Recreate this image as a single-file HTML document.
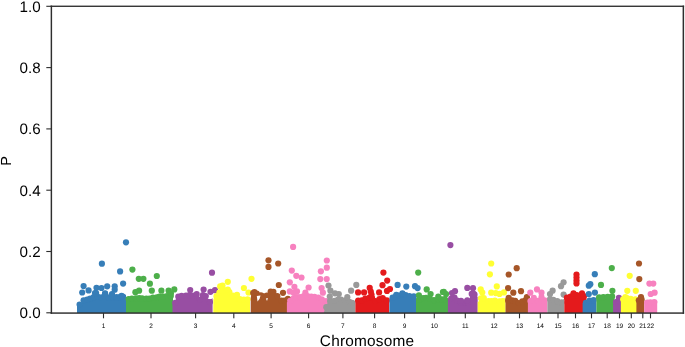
<!DOCTYPE html>
<html><head><meta charset="utf-8"><style>
html,body{margin:0;padding:0;background:#fff;}
body{width:685px;height:347px;overflow:hidden;}
svg{display:block;will-change:transform;}
text{text-rendering:geometricPrecision;font-family:"Liberation Sans",sans-serif;fill:#000;}
.yt{font-size:15.2px;text-anchor:end;}
.xt{font-size:6.5px;text-anchor:middle;}
.xl{font-size:15.4px;text-anchor:middle;letter-spacing:0.2px;}
.yl{font-size:14.6px;text-anchor:middle;}
</style></head><body>
<svg width="685" height="347" viewBox="0 0 685 347">
<clipPath id="ax"><rect x="51" y="6" width="632" height="307"/></clipPath>
<g clip-path="url(#ax)">
<path d="M77.0,313.5 L77.0,304.7 L78.5,303.4 L82.0,303.0 L83.0,299.7 L84.5,298.2 L88.0,298.0 L90.5,296.7 L92.0,295.7 L100.0,295.2 L110.0,295.2 L118.0,296.2 L123.0,295.2 L126.0,294.7 L126.0,313.5Z" fill="#377eb8"/>
<circle cx="79.6" cy="304.6" r="3.1" fill="#377eb8"/>
<circle cx="83.6" cy="300.3" r="3.1" fill="#377eb8"/>
<circle cx="87.1" cy="299.6" r="3.1" fill="#377eb8"/>
<circle cx="90.1" cy="298.6" r="3.1" fill="#377eb8"/>
<circle cx="93.7" cy="297.2" r="3.1" fill="#377eb8"/>
<circle cx="97.4" cy="296.6" r="3.1" fill="#377eb8"/>
<circle cx="101.4" cy="297.3" r="3.1" fill="#377eb8"/>
<circle cx="104.7" cy="296.6" r="3.1" fill="#377eb8"/>
<circle cx="108.9" cy="297.4" r="3.1" fill="#377eb8"/>
<circle cx="112.4" cy="297.1" r="3.1" fill="#377eb8"/>
<circle cx="116.5" cy="297.2" r="3.1" fill="#377eb8"/>
<circle cx="120.0" cy="297.2" r="3.1" fill="#377eb8"/>
<circle cx="122.8" cy="296.5" r="3.1" fill="#377eb8"/>
<circle cx="82.2" cy="292.5" r="3.1" fill="#377eb8"/>
<circle cx="88.6" cy="290.4" r="3.1" fill="#377eb8"/>
<circle cx="96.1" cy="293.1" r="3.1" fill="#377eb8"/>
<circle cx="105.1" cy="293.4" r="3.1" fill="#377eb8"/>
<circle cx="83.6" cy="286.1" r="3.1" fill="#377eb8"/>
<circle cx="96.5" cy="287.8" r="3.1" fill="#377eb8"/>
<circle cx="101.5" cy="288.0" r="3.1" fill="#377eb8"/>
<circle cx="107.2" cy="286.3" r="3.1" fill="#377eb8"/>
<circle cx="114.7" cy="286.3" r="3.1" fill="#377eb8"/>
<circle cx="114.7" cy="289.7" r="3.1" fill="#377eb8"/>
<circle cx="105.0" cy="293.8" r="3.1" fill="#377eb8"/>
<circle cx="121.5" cy="295.8" r="3.1" fill="#377eb8"/>
<circle cx="123.1" cy="283.6" r="3.1" fill="#377eb8"/>
<circle cx="120.1" cy="271.4" r="3.1" fill="#377eb8"/>
<circle cx="101.9" cy="263.7" r="3.1" fill="#377eb8"/>
<circle cx="126.0" cy="242.3" r="3.1" fill="#377eb8"/>
<circle cx="95.0" cy="293.0" r="3.1" fill="#377eb8"/>
<circle cx="112.0" cy="294.0" r="3.1" fill="#377eb8"/>
<path d="M126.0,313.5 L126.0,297.2 L130.0,296.7 L134.0,296.7 L140.0,297.0 L145.0,297.2 L150.0,296.7 L155.0,295.7 L160.0,294.7 L165.0,294.5 L170.0,294.7 L173.0,295.2 L173.0,313.5Z" fill="#4daf4a"/>
<circle cx="128.6" cy="299.0" r="3.1" fill="#4daf4a"/>
<circle cx="131.9" cy="298.5" r="3.1" fill="#4daf4a"/>
<circle cx="135.9" cy="298.3" r="3.1" fill="#4daf4a"/>
<circle cx="139.2" cy="298.1" r="3.1" fill="#4daf4a"/>
<circle cx="142.1" cy="298.4" r="3.1" fill="#4daf4a"/>
<circle cx="146.3" cy="298.7" r="3.1" fill="#4daf4a"/>
<circle cx="149.3" cy="298.6" r="3.1" fill="#4daf4a"/>
<circle cx="152.9" cy="297.6" r="3.1" fill="#4daf4a"/>
<circle cx="156.8" cy="297.3" r="3.1" fill="#4daf4a"/>
<circle cx="159.5" cy="296.6" r="3.1" fill="#4daf4a"/>
<circle cx="163.3" cy="296.7" r="3.1" fill="#4daf4a"/>
<circle cx="167.0" cy="296.0" r="3.1" fill="#4daf4a"/>
<circle cx="170.8" cy="296.1" r="3.1" fill="#4daf4a"/>
<circle cx="132.4" cy="269.6" r="3.1" fill="#4daf4a"/>
<circle cx="138.8" cy="278.8" r="3.1" fill="#4daf4a"/>
<circle cx="143.4" cy="278.8" r="3.1" fill="#4daf4a"/>
<circle cx="156.8" cy="276.0" r="3.1" fill="#4daf4a"/>
<circle cx="149.9" cy="283.7" r="3.1" fill="#4daf4a"/>
<circle cx="135.4" cy="292.2" r="3.1" fill="#4daf4a"/>
<circle cx="139.1" cy="290.7" r="3.1" fill="#4daf4a"/>
<circle cx="151.8" cy="290.7" r="3.1" fill="#4daf4a"/>
<circle cx="161.4" cy="290.7" r="3.1" fill="#4daf4a"/>
<circle cx="168.6" cy="290.7" r="3.1" fill="#4daf4a"/>
<circle cx="174.3" cy="289.4" r="3.1" fill="#4daf4a"/>
<circle cx="170.9" cy="293.3" r="3.1" fill="#4daf4a"/>
<path d="M172.5,313.5 L172.5,302.2 L175.0,301.2 L176.5,297.7 L178.0,295.2 L180.0,294.2 L185.0,293.7 L195.0,293.7 L198.3,294.2 L199.5,298.7 L200.7,294.2 L203.0,293.2 L206.0,294.2 L207.5,298.2 L210.0,299.7 L212.6,298.2 L212.6,313.5Z" fill="#984ea3"/>
<circle cx="175.2" cy="302.8" r="3.1" fill="#984ea3"/>
<circle cx="178.3" cy="296.7" r="3.1" fill="#984ea3"/>
<circle cx="181.6" cy="295.9" r="3.1" fill="#984ea3"/>
<circle cx="186.0" cy="295.5" r="3.1" fill="#984ea3"/>
<circle cx="189.5" cy="295.2" r="3.1" fill="#984ea3"/>
<circle cx="192.8" cy="295.5" r="3.1" fill="#984ea3"/>
<circle cx="196.1" cy="295.5" r="3.1" fill="#984ea3"/>
<circle cx="199.9" cy="299.6" r="3.1" fill="#984ea3"/>
<circle cx="202.9" cy="295.2" r="3.1" fill="#984ea3"/>
<circle cx="205.8" cy="296.1" r="3.1" fill="#984ea3"/>
<circle cx="210.0" cy="302.0" r="3.1" fill="#984ea3"/>
<circle cx="212.0" cy="272.7" r="3.1" fill="#984ea3"/>
<circle cx="190.2" cy="290.1" r="3.1" fill="#984ea3"/>
<circle cx="203.6" cy="289.5" r="3.1" fill="#984ea3"/>
<circle cx="210.5" cy="291.8" r="3.1" fill="#984ea3"/>
<circle cx="215.0" cy="290.2" r="3.1" fill="#984ea3"/>
<circle cx="196.7" cy="294.0" r="3.1" fill="#984ea3"/>
<path d="M213.3,313.5 L213.3,299.7 L214.5,296.7 L216.5,294.7 L218.0,291.7 L222.0,289.2 L228.0,289.2 L231.0,291.2 L233.0,294.2 L237.0,296.2 L240.0,297.7 L245.0,297.2 L250.0,297.2 L250.0,313.5Z" fill="#ffff33"/>
<circle cx="216.5" cy="296.2" r="3.1" fill="#ffff33"/>
<circle cx="219.4" cy="292.7" r="3.1" fill="#ffff33"/>
<circle cx="222.4" cy="290.9" r="3.1" fill="#ffff33"/>
<circle cx="226.1" cy="290.4" r="3.1" fill="#ffff33"/>
<circle cx="229.4" cy="292.1" r="3.1" fill="#ffff33"/>
<circle cx="232.9" cy="295.5" r="3.1" fill="#ffff33"/>
<circle cx="236.7" cy="298.2" r="3.1" fill="#ffff33"/>
<circle cx="239.8" cy="299.2" r="3.1" fill="#ffff33"/>
<circle cx="243.8" cy="299.5" r="3.1" fill="#ffff33"/>
<circle cx="247.6" cy="299.3" r="3.1" fill="#ffff33"/>
<circle cx="251.5" cy="278.8" r="3.1" fill="#ffff33"/>
<circle cx="227.8" cy="281.8" r="3.1" fill="#ffff33"/>
<circle cx="220.2" cy="286.4" r="3.1" fill="#ffff33"/>
<circle cx="222.5" cy="285.7" r="3.1" fill="#ffff33"/>
<circle cx="243.9" cy="288.0" r="3.1" fill="#ffff33"/>
<circle cx="248.5" cy="292.5" r="3.1" fill="#ffff33"/>
<circle cx="227.8" cy="289.5" r="3.1" fill="#ffff33"/>
<circle cx="237.0" cy="294.8" r="3.1" fill="#ffff33"/>
<path d="M250.7,313.5 L250.7,298.2 L251.5,293.2 L253.0,291.5 L256.0,291.3 L258.0,291.7 L260.0,293.5 L262.0,294.7 L266.0,295.4 L268.0,292.2 L270.0,290.2 L273.0,290.0 L275.0,291.2 L277.0,294.2 L279.0,295.7 L281.0,298.7 L285.0,298.7 L287.0,297.7 L290.5,297.7 L290.5,313.5Z" fill="#a65628"/>
<circle cx="253.2" cy="293.1" r="3.1" fill="#a65628"/>
<circle cx="256.7" cy="293.6" r="3.1" fill="#a65628"/>
<circle cx="260.9" cy="295.3" r="3.1" fill="#a65628"/>
<circle cx="263.4" cy="296.3" r="3.1" fill="#a65628"/>
<circle cx="266.9" cy="295.7" r="3.1" fill="#a65628"/>
<circle cx="270.7" cy="291.6" r="3.1" fill="#a65628"/>
<circle cx="273.4" cy="291.9" r="3.1" fill="#a65628"/>
<circle cx="277.3" cy="296.2" r="3.1" fill="#a65628"/>
<circle cx="281.4" cy="300.6" r="3.1" fill="#a65628"/>
<circle cx="284.3" cy="300.5" r="3.1" fill="#a65628"/>
<circle cx="287.9" cy="298.9" r="3.1" fill="#a65628"/>
<circle cx="268.5" cy="260.3" r="3.1" fill="#a65628"/>
<circle cx="268.5" cy="266.9" r="3.1" fill="#a65628"/>
<circle cx="278.2" cy="263.5" r="3.1" fill="#a65628"/>
<circle cx="278.8" cy="285.0" r="3.1" fill="#a65628"/>
<circle cx="283.0" cy="292.8" r="3.1" fill="#a65628"/>
<circle cx="254.4" cy="292.1" r="3.1" fill="#a65628"/>
<path d="M256.8,296.0 L260.5,295.5 L259.5,299.0 L257.5,301.5Z" fill="#fff"/>
<path d="M265.9,298.5 L267.9,298.0 L267.0,301.0Z" fill="#fff"/>
<path d="M286.9,313.5 L286.9,302.2 L288.5,301.7 L290.8,297.7 L292.0,296.2 L295.0,295.7 L300.0,295.2 L305.0,294.7 L310.0,295.2 L315.0,295.7 L320.0,296.2 L323.0,297.7 L326.0,299.7 L328.8,301.7 L328.8,313.5Z" fill="#f781bf"/>
<circle cx="290.2" cy="300.8" r="3.1" fill="#f781bf"/>
<circle cx="293.8" cy="298.0" r="3.1" fill="#f781bf"/>
<circle cx="296.8" cy="297.1" r="3.1" fill="#f781bf"/>
<circle cx="300.1" cy="297.1" r="3.1" fill="#f781bf"/>
<circle cx="303.7" cy="296.0" r="3.1" fill="#f781bf"/>
<circle cx="307.5" cy="296.2" r="3.1" fill="#f781bf"/>
<circle cx="311.3" cy="296.5" r="3.1" fill="#f781bf"/>
<circle cx="314.5" cy="296.9" r="3.1" fill="#f781bf"/>
<circle cx="318.3" cy="297.6" r="3.1" fill="#f781bf"/>
<circle cx="321.8" cy="299.3" r="3.1" fill="#f781bf"/>
<circle cx="326.1" cy="301.1" r="3.1" fill="#f781bf"/>
<circle cx="293.1" cy="246.9" r="3.1" fill="#f781bf"/>
<circle cx="291.8" cy="270.6" r="3.1" fill="#f781bf"/>
<circle cx="296.3" cy="275.8" r="3.1" fill="#f781bf"/>
<circle cx="301.5" cy="277.5" r="3.1" fill="#f781bf"/>
<circle cx="289.8" cy="282.3" r="3.1" fill="#f781bf"/>
<circle cx="294.4" cy="286.8" r="3.1" fill="#f781bf"/>
<circle cx="289.8" cy="291.4" r="3.1" fill="#f781bf"/>
<circle cx="297.0" cy="291.4" r="3.1" fill="#f781bf"/>
<circle cx="293.5" cy="292.5" r="3.1" fill="#f781bf"/>
<circle cx="308.6" cy="287.5" r="3.1" fill="#f781bf"/>
<circle cx="305.4" cy="292.7" r="3.1" fill="#f781bf"/>
<circle cx="326.8" cy="260.5" r="3.1" fill="#f781bf"/>
<circle cx="326.8" cy="267.7" r="3.1" fill="#f781bf"/>
<circle cx="320.9" cy="271.3" r="3.1" fill="#f781bf"/>
<circle cx="320.3" cy="279.1" r="3.1" fill="#f781bf"/>
<circle cx="326.7" cy="279.1" r="3.1" fill="#f781bf"/>
<circle cx="321.6" cy="288.1" r="3.1" fill="#f781bf"/>
<circle cx="322.9" cy="292.7" r="3.1" fill="#f781bf"/>
<path d="M323.8,313.5 L323.8,312.7 L325.0,308.7 L326.5,305.2 L328.0,302.2 L330.0,299.7 L331.0,299.2 L336.0,298.2 L340.0,298.2 L345.0,299.2 L350.0,300.7 L355.4,300.7 L355.4,313.5Z" fill="#999999"/>
<circle cx="326.3" cy="307.2" r="3.1" fill="#999999"/>
<circle cx="330.1" cy="300.9" r="3.1" fill="#999999"/>
<circle cx="334.4" cy="300.8" r="3.1" fill="#999999"/>
<circle cx="337.7" cy="299.9" r="3.1" fill="#999999"/>
<circle cx="341.0" cy="299.6" r="3.1" fill="#999999"/>
<circle cx="345.0" cy="300.6" r="3.1" fill="#999999"/>
<circle cx="349.3" cy="301.8" r="3.1" fill="#999999"/>
<circle cx="352.0" cy="302.9" r="3.1" fill="#999999"/>
<circle cx="328.5" cy="285.5" r="3.1" fill="#999999"/>
<circle cx="330.4" cy="290.7" r="3.1" fill="#999999"/>
<circle cx="335.0" cy="293.3" r="3.1" fill="#999999"/>
<circle cx="338.8" cy="294.0" r="3.1" fill="#999999"/>
<circle cx="351.1" cy="290.7" r="3.1" fill="#999999"/>
<circle cx="356.3" cy="284.9" r="3.1" fill="#999999"/>
<circle cx="347.3" cy="297.2" r="3.1" fill="#999999"/>
<circle cx="329.8" cy="296.6" r="3.1" fill="#999999"/>
<path d="M355.4,313.5 L355.4,299.7 L357.0,299.2 L362.0,299.2 L364.0,296.7 L366.0,296.2 L368.0,295.7 L372.0,296.2 L374.0,298.7 L377.0,299.2 L379.0,297.2 L383.0,296.7 L385.0,297.2 L387.0,298.2 L389.2,297.7 L389.2,313.5Z" fill="#e41a1c"/>
<circle cx="358.2" cy="300.5" r="3.1" fill="#e41a1c"/>
<circle cx="361.8" cy="300.3" r="3.1" fill="#e41a1c"/>
<circle cx="365.3" cy="298.7" r="3.1" fill="#e41a1c"/>
<circle cx="369.2" cy="297.8" r="3.1" fill="#e41a1c"/>
<circle cx="372.0" cy="297.8" r="3.1" fill="#e41a1c"/>
<circle cx="375.4" cy="301.0" r="3.1" fill="#e41a1c"/>
<circle cx="379.4" cy="299.2" r="3.1" fill="#e41a1c"/>
<circle cx="382.7" cy="298.1" r="3.1" fill="#e41a1c"/>
<circle cx="386.8" cy="300.4" r="3.1" fill="#e41a1c"/>
<circle cx="383.4" cy="272.6" r="3.1" fill="#e41a1c"/>
<circle cx="387.2" cy="280.6" r="3.1" fill="#e41a1c"/>
<circle cx="382.5" cy="285.2" r="3.1" fill="#e41a1c"/>
<circle cx="369.7" cy="287.9" r="3.1" fill="#e41a1c"/>
<circle cx="370.8" cy="291.5" r="3.1" fill="#e41a1c"/>
<circle cx="371.5" cy="294.5" r="3.1" fill="#e41a1c"/>
<circle cx="358.1" cy="292.4" r="3.1" fill="#e41a1c"/>
<circle cx="364.1" cy="292.4" r="3.1" fill="#e41a1c"/>
<circle cx="379.1" cy="292.4" r="3.1" fill="#e41a1c"/>
<circle cx="387.0" cy="290.9" r="3.1" fill="#e41a1c"/>
<circle cx="390.0" cy="289.0" r="3.1" fill="#e41a1c"/>
<path d="M389.4,313.5 L389.4,299.2 L391.0,297.2 L393.5,294.7 L400.0,293.7 L405.0,293.5 L410.0,294.2 L414.5,294.7 L416.0,295.2 L416.0,313.5Z" fill="#377eb8"/>
<circle cx="392.6" cy="297.7" r="3.1" fill="#377eb8"/>
<circle cx="396.1" cy="296.3" r="3.1" fill="#377eb8"/>
<circle cx="398.9" cy="295.6" r="3.1" fill="#377eb8"/>
<circle cx="402.5" cy="294.7" r="3.1" fill="#377eb8"/>
<circle cx="405.6" cy="295.0" r="3.1" fill="#377eb8"/>
<circle cx="409.4" cy="296.0" r="3.1" fill="#377eb8"/>
<circle cx="413.8" cy="296.3" r="3.1" fill="#377eb8"/>
<circle cx="397.6" cy="284.9" r="3.1" fill="#377eb8"/>
<circle cx="406.3" cy="286.6" r="3.1" fill="#377eb8"/>
<circle cx="415.0" cy="286.2" r="3.1" fill="#377eb8"/>
<circle cx="417.6" cy="288.1" r="3.1" fill="#377eb8"/>
<circle cx="402.4" cy="293.3" r="3.1" fill="#377eb8"/>
<circle cx="396.3" cy="294.8" r="3.1" fill="#377eb8"/>
<path d="M416.0,313.5 L416.0,298.2 L420.0,297.2 L425.0,296.2 L430.0,297.2 L435.0,298.2 L440.0,297.2 L445.0,297.2 L448.0,298.2 L448.0,313.5Z" fill="#4daf4a"/>
<circle cx="419.3" cy="299.7" r="3.1" fill="#4daf4a"/>
<circle cx="423.1" cy="298.1" r="3.1" fill="#4daf4a"/>
<circle cx="426.0" cy="297.8" r="3.1" fill="#4daf4a"/>
<circle cx="429.7" cy="298.5" r="3.1" fill="#4daf4a"/>
<circle cx="434.0" cy="300.2" r="3.1" fill="#4daf4a"/>
<circle cx="438.1" cy="299.3" r="3.1" fill="#4daf4a"/>
<circle cx="441.6" cy="299.3" r="3.1" fill="#4daf4a"/>
<circle cx="444.7" cy="299.1" r="3.1" fill="#4daf4a"/>
<circle cx="418.2" cy="272.6" r="3.1" fill="#4daf4a"/>
<circle cx="426.7" cy="289.4" r="3.1" fill="#4daf4a"/>
<circle cx="430.6" cy="294.0" r="3.1" fill="#4daf4a"/>
<circle cx="442.9" cy="292.0" r="3.1" fill="#4daf4a"/>
<circle cx="446.1" cy="294.0" r="3.1" fill="#4daf4a"/>
<circle cx="418.9" cy="295.3" r="3.1" fill="#4daf4a"/>
<circle cx="438.3" cy="296.6" r="3.1" fill="#4daf4a"/>
<circle cx="443.8" cy="291.8" r="3.1" fill="#4daf4a"/>
<path d="M447.9,313.5 L447.9,298.7 L450.0,297.7 L452.0,295.7 L456.0,296.2 L457.5,299.2 L460.0,300.7 L463.0,300.7 L466.0,300.7 L469.5,299.7 L470.5,294.2 L472.0,292.2 L476.0,294.2 L477.7,297.2 L477.7,313.5Z" fill="#984ea3"/>
<circle cx="451.2" cy="298.6" r="3.1" fill="#984ea3"/>
<circle cx="454.5" cy="297.7" r="3.1" fill="#984ea3"/>
<circle cx="457.2" cy="300.7" r="3.1" fill="#984ea3"/>
<circle cx="460.9" cy="302.8" r="3.1" fill="#984ea3"/>
<circle cx="465.1" cy="302.3" r="3.1" fill="#984ea3"/>
<circle cx="467.9" cy="302.4" r="3.1" fill="#984ea3"/>
<circle cx="471.7" cy="293.9" r="3.1" fill="#984ea3"/>
<circle cx="474.5" cy="294.7" r="3.1" fill="#984ea3"/>
<circle cx="450.4" cy="245.1" r="3.1" fill="#984ea3"/>
<circle cx="455.0" cy="291.2" r="3.1" fill="#984ea3"/>
<circle cx="452.0" cy="293.1" r="3.1" fill="#984ea3"/>
<circle cx="467.3" cy="287.9" r="3.1" fill="#984ea3"/>
<circle cx="473.0" cy="288.2" r="3.1" fill="#984ea3"/>
<circle cx="473.7" cy="293.9" r="3.1" fill="#984ea3"/>
<circle cx="461.0" cy="300.8" r="3.1" fill="#984ea3"/>
<circle cx="467.3" cy="300.3" r="3.1" fill="#984ea3"/>
<path d="M477.7,313.5 L477.7,301.7 L479.0,301.2 L480.5,297.2 L482.0,294.2 L484.0,296.2 L486.0,298.7 L490.0,299.4 L495.0,299.4 L500.0,299.4 L503.0,298.7 L505.5,298.2 L505.5,313.5Z" fill="#ffff33"/>
<circle cx="481.0" cy="298.3" r="3.1" fill="#ffff33"/>
<circle cx="483.8" cy="298.1" r="3.1" fill="#ffff33"/>
<circle cx="488.5" cy="301.0" r="3.1" fill="#ffff33"/>
<circle cx="491.4" cy="301.2" r="3.1" fill="#ffff33"/>
<circle cx="494.9" cy="300.5" r="3.1" fill="#ffff33"/>
<circle cx="499.6" cy="301.3" r="3.1" fill="#ffff33"/>
<circle cx="502.7" cy="301.0" r="3.1" fill="#ffff33"/>
<circle cx="491.2" cy="263.5" r="3.1" fill="#ffff33"/>
<circle cx="489.9" cy="274.3" r="3.1" fill="#ffff33"/>
<circle cx="496.8" cy="286.4" r="3.1" fill="#ffff33"/>
<circle cx="480.7" cy="289.4" r="3.1" fill="#ffff33"/>
<circle cx="482.3" cy="292.5" r="3.1" fill="#ffff33"/>
<circle cx="491.2" cy="292.7" r="3.1" fill="#ffff33"/>
<circle cx="495.7" cy="293.1" r="3.1" fill="#ffff33"/>
<circle cx="499.5" cy="293.9" r="3.1" fill="#ffff33"/>
<circle cx="504.0" cy="292.4" r="3.1" fill="#ffff33"/>
<path d="M505.5,313.5 L505.5,298.2 L510.0,298.7 L515.0,299.2 L517.0,301.2 L521.5,301.2 L523.0,298.7 L526.0,297.7 L529.0,298.2 L529.0,313.5Z" fill="#a65628"/>
<circle cx="508.2" cy="300.6" r="3.1" fill="#a65628"/>
<circle cx="512.3" cy="300.3" r="3.1" fill="#a65628"/>
<circle cx="515.2" cy="300.8" r="3.1" fill="#a65628"/>
<circle cx="518.7" cy="303.0" r="3.1" fill="#a65628"/>
<circle cx="522.3" cy="301.4" r="3.1" fill="#a65628"/>
<circle cx="525.8" cy="300.0" r="3.1" fill="#a65628"/>
<circle cx="516.7" cy="268.2" r="3.1" fill="#a65628"/>
<circle cx="508.7" cy="274.5" r="3.1" fill="#a65628"/>
<circle cx="508.1" cy="288.1" r="3.1" fill="#a65628"/>
<circle cx="513.3" cy="292.7" r="3.1" fill="#a65628"/>
<circle cx="521.0" cy="291.2" r="3.1" fill="#a65628"/>
<circle cx="526.9" cy="297.2" r="3.1" fill="#a65628"/>
<circle cx="508.7" cy="297.8" r="3.1" fill="#a65628"/>
<path d="M527.9,313.5 L527.9,300.2 L531.0,299.2 L535.0,298.7 L540.0,298.7 L545.0,299.2 L547.4,300.2 L547.4,313.5Z" fill="#f781bf"/>
<circle cx="530.5" cy="301.0" r="3.1" fill="#f781bf"/>
<circle cx="534.3" cy="301.0" r="3.1" fill="#f781bf"/>
<circle cx="537.6" cy="300.9" r="3.1" fill="#f781bf"/>
<circle cx="541.1" cy="300.6" r="3.1" fill="#f781bf"/>
<circle cx="544.6" cy="300.3" r="3.1" fill="#f781bf"/>
<circle cx="530.3" cy="292.7" r="3.1" fill="#f781bf"/>
<circle cx="537.0" cy="289.4" r="3.1" fill="#f781bf"/>
<circle cx="541.5" cy="292.7" r="3.1" fill="#f781bf"/>
<circle cx="533.8" cy="297.8" r="3.1" fill="#f781bf"/>
<circle cx="541.5" cy="297.2" r="3.1" fill="#f781bf"/>
<path d="M547.4,313.5 L547.4,299.2 L550.0,297.7 L555.0,297.7 L557.0,299.2 L559.0,301.7 L561.0,301.2 L564.2,298.7 L564.2,313.5Z" fill="#999999"/>
<circle cx="550.1" cy="299.0" r="3.1" fill="#999999"/>
<circle cx="553.3" cy="299.8" r="3.1" fill="#999999"/>
<circle cx="557.3" cy="301.2" r="3.1" fill="#999999"/>
<circle cx="561.7" cy="302.4" r="3.1" fill="#999999"/>
<circle cx="563.6" cy="282.3" r="3.1" fill="#999999"/>
<circle cx="561.0" cy="286.2" r="3.1" fill="#999999"/>
<circle cx="552.6" cy="290.7" r="3.1" fill="#999999"/>
<circle cx="550.0" cy="294.0" r="3.1" fill="#999999"/>
<circle cx="563.6" cy="294.6" r="3.1" fill="#999999"/>
<path d="M564.3,313.5 L564.3,297.7 L566.0,296.2 L568.0,295.2 L575.0,293.7 L580.0,293.7 L584.0,294.2 L586.5,296.2 L586.5,313.5Z" fill="#e41a1c"/>
<circle cx="566.9" cy="297.5" r="3.1" fill="#e41a1c"/>
<circle cx="570.5" cy="296.7" r="3.1" fill="#e41a1c"/>
<circle cx="573.3" cy="295.8" r="3.1" fill="#e41a1c"/>
<circle cx="576.8" cy="295.1" r="3.1" fill="#e41a1c"/>
<circle cx="580.7" cy="295.5" r="3.1" fill="#e41a1c"/>
<circle cx="583.8" cy="296.2" r="3.1" fill="#e41a1c"/>
<circle cx="576.5" cy="274.5" r="3.1" fill="#e41a1c"/>
<circle cx="576.5" cy="277.5" r="3.1" fill="#e41a1c"/>
<circle cx="576.5" cy="280.5" r="3.1" fill="#e41a1c"/>
<circle cx="576.5" cy="283.4" r="3.1" fill="#e41a1c"/>
<circle cx="573.5" cy="293.3" r="3.1" fill="#e41a1c"/>
<circle cx="582.0" cy="293.3" r="3.1" fill="#e41a1c"/>
<path d="M582.6,313.5 L582.6,303.2 L586.0,301.2 L589.0,299.2 L593.0,298.2 L596.4,298.2 L596.4,313.5Z" fill="#377eb8"/>
<circle cx="585.9" cy="302.9" r="3.1" fill="#377eb8"/>
<circle cx="589.6" cy="300.7" r="3.1" fill="#377eb8"/>
<circle cx="593.6" cy="300.1" r="3.1" fill="#377eb8"/>
<circle cx="594.8" cy="274.2" r="3.1" fill="#377eb8"/>
<circle cx="590.3" cy="284.2" r="3.1" fill="#377eb8"/>
<circle cx="588.8" cy="285.7" r="3.1" fill="#377eb8"/>
<circle cx="594.9" cy="292.6" r="3.1" fill="#377eb8"/>
<circle cx="588.8" cy="294.1" r="3.1" fill="#377eb8"/>
<path d="M596.4,313.5 L596.4,297.2 L600.0,295.2 L605.0,294.7 L610.0,294.7 L614.4,295.2 L614.4,313.5Z" fill="#4daf4a"/>
<circle cx="599.1" cy="297.4" r="3.1" fill="#4daf4a"/>
<circle cx="603.3" cy="297.1" r="3.1" fill="#4daf4a"/>
<circle cx="607.7" cy="296.9" r="3.1" fill="#4daf4a"/>
<circle cx="612.1" cy="296.4" r="3.1" fill="#4daf4a"/>
<circle cx="611.8" cy="268.1" r="3.1" fill="#4daf4a"/>
<circle cx="601.0" cy="284.9" r="3.1" fill="#4daf4a"/>
<circle cx="612.4" cy="290.8" r="3.1" fill="#4daf4a"/>
<path d="M613.1,313.5 L613.1,301.2 L616.0,299.7 L619.0,299.2 L621.5,300.2 L621.5,313.5Z" fill="#984ea3"/>
<circle cx="616.0" cy="302.0" r="3.1" fill="#984ea3"/>
<circle cx="619.1" cy="300.5" r="3.1" fill="#984ea3"/>
<circle cx="618.9" cy="297.9" r="3.1" fill="#984ea3"/>
<path d="M620.9,313.5 L620.9,299.2 L624.0,297.2 L628.0,296.7 L633.0,297.2 L637.7,297.2 L637.7,313.5Z" fill="#ffff33"/>
<circle cx="623.2" cy="299.3" r="3.1" fill="#ffff33"/>
<circle cx="626.9" cy="298.2" r="3.1" fill="#ffff33"/>
<circle cx="630.7" cy="298.9" r="3.1" fill="#ffff33"/>
<circle cx="635.3" cy="299.4" r="3.1" fill="#ffff33"/>
<circle cx="629.7" cy="275.8" r="3.1" fill="#ffff33"/>
<circle cx="627.3" cy="290.8" r="3.1" fill="#ffff33"/>
<circle cx="635.8" cy="290.8" r="3.1" fill="#ffff33"/>
<circle cx="625.4" cy="297.2" r="3.1" fill="#ffff33"/>
<path d="M636.4,313.5 L636.4,300.2 L639.0,298.2 L642.0,298.2 L644.2,300.2 L644.2,313.5Z" fill="#a65628"/>
<circle cx="638.8" cy="300.3" r="3.1" fill="#a65628"/>
<circle cx="641.6" cy="299.5" r="3.1" fill="#a65628"/>
<circle cx="639.0" cy="263.5" r="3.1" fill="#a65628"/>
<circle cx="639.3" cy="279.1" r="3.1" fill="#a65628"/>
<circle cx="641.0" cy="297.2" r="3.1" fill="#a65628"/>
<path d="M644.2,313.5 L644.2,301.2 L647.0,300.2 L652.0,300.2 L657.2,300.7 L657.2,313.5Z" fill="#f781bf"/>
<circle cx="647.4" cy="302.5" r="3.1" fill="#f781bf"/>
<circle cx="650.4" cy="302.4" r="3.1" fill="#f781bf"/>
<circle cx="654.3" cy="302.1" r="3.1" fill="#f781bf"/>
<circle cx="649.4" cy="283.6" r="3.1" fill="#f781bf"/>
<circle cx="653.3" cy="283.6" r="3.1" fill="#f781bf"/>
<circle cx="650.7" cy="294.0" r="3.1" fill="#f781bf"/>
<circle cx="654.6" cy="292.7" r="3.1" fill="#f781bf"/>
</g>
<rect x="50.65" y="5.6" width="1.45" height="308.2" fill="#2e2e2e"/>
<rect x="682.6" y="5.6" width="1.5" height="308.2" fill="#2e2e2e"/>
<rect x="50.65" y="5.6" width="633.45" height="1.35" fill="#2e2e2e"/>
<rect x="50.65" y="312.35" width="633.45" height="1.45" fill="#2e2e2e"/>
<rect x="46.3" y="5.75" width="5" height="1.1" fill="#2e2e2e"/>
<text x="40.7" y="11.80" class="yt">1.0</text>
<rect x="46.3" y="67.05" width="5" height="1.1" fill="#2e2e2e"/>
<text x="40.7" y="73.10" class="yt">0.8</text>
<rect x="46.3" y="128.35" width="5" height="1.1" fill="#2e2e2e"/>
<text x="40.7" y="134.40" class="yt">0.6</text>
<rect x="46.3" y="189.65" width="5" height="1.1" fill="#2e2e2e"/>
<text x="40.7" y="195.70" class="yt">0.4</text>
<rect x="46.3" y="250.95" width="5" height="1.1" fill="#2e2e2e"/>
<text x="40.7" y="257.00" class="yt">0.2</text>
<rect x="46.3" y="312.25" width="5" height="1.1" fill="#2e2e2e"/>
<text x="40.7" y="318.30" class="yt">0.0</text>
<rect x="102.95" y="313" width="1.1" height="5.3" fill="#2e2e2e"/>
<text x="103.5" y="327.6" class="xt">1</text>
<rect x="150.45" y="313" width="1.1" height="5.3" fill="#2e2e2e"/>
<text x="151" y="327.6" class="xt">2</text>
<rect x="195.05" y="313" width="1.1" height="5.3" fill="#2e2e2e"/>
<text x="195.6" y="327.6" class="xt">3</text>
<rect x="233.25" y="313" width="1.1" height="5.3" fill="#2e2e2e"/>
<text x="233.8" y="327.6" class="xt">4</text>
<rect x="270.55" y="313" width="1.1" height="5.3" fill="#2e2e2e"/>
<text x="271.1" y="327.6" class="xt">5</text>
<rect x="308.05" y="313" width="1.1" height="5.3" fill="#2e2e2e"/>
<text x="308.6" y="327.6" class="xt">6</text>
<rect x="342.35" y="313" width="1.1" height="5.3" fill="#2e2e2e"/>
<text x="342.9" y="327.6" class="xt">7</text>
<rect x="374.05" y="313" width="1.1" height="5.3" fill="#2e2e2e"/>
<text x="374.6" y="327.6" class="xt">8</text>
<rect x="404.05" y="313" width="1.1" height="5.3" fill="#2e2e2e"/>
<text x="404.6" y="327.6" class="xt">9</text>
<rect x="433.75" y="313" width="1.1" height="5.3" fill="#2e2e2e"/>
<text x="434.3" y="327.6" class="xt">10</text>
<rect x="464.75" y="313" width="1.1" height="5.3" fill="#2e2e2e"/>
<text x="465.3" y="327.6" class="xt">11</text>
<rect x="493.55" y="313" width="1.1" height="5.3" fill="#2e2e2e"/>
<text x="494.1" y="327.6" class="xt">12</text>
<rect x="518.95" y="313" width="1.1" height="5.3" fill="#2e2e2e"/>
<text x="519.5" y="327.6" class="xt">13</text>
<rect x="539.75" y="313" width="1.1" height="5.3" fill="#2e2e2e"/>
<text x="540.3" y="327.6" class="xt">14</text>
<rect x="557.45" y="313" width="1.1" height="5.3" fill="#2e2e2e"/>
<text x="558" y="327.6" class="xt">15</text>
<rect x="574.95" y="313" width="1.1" height="5.3" fill="#2e2e2e"/>
<text x="575.5" y="327.6" class="xt">16</text>
<rect x="590.95" y="313" width="1.1" height="5.3" fill="#2e2e2e"/>
<text x="591.5" y="327.6" class="xt">17</text>
<rect x="606.65" y="313" width="1.1" height="5.3" fill="#2e2e2e"/>
<text x="607.2" y="327.6" class="xt">18</text>
<rect x="618.95" y="313" width="1.1" height="5.3" fill="#2e2e2e"/>
<text x="619.5" y="327.6" class="xt">19</text>
<rect x="630.75" y="313" width="1.1" height="5.3" fill="#2e2e2e"/>
<text x="631.3" y="327.6" class="xt">20</text>
<rect x="642.25" y="313" width="1.1" height="5.3" fill="#2e2e2e"/>
<text x="642.8" y="327.6" class="xt">21</text>
<rect x="649.95" y="313" width="1.1" height="5.3" fill="#2e2e2e"/>
<text x="650.5" y="327.6" class="xt">22</text>
<text x="367" y="345.6" class="xl">Chromosome</text>
<text transform="translate(11,160.8) rotate(-90)" class="yl">P</text>
</svg>
</body></html>
